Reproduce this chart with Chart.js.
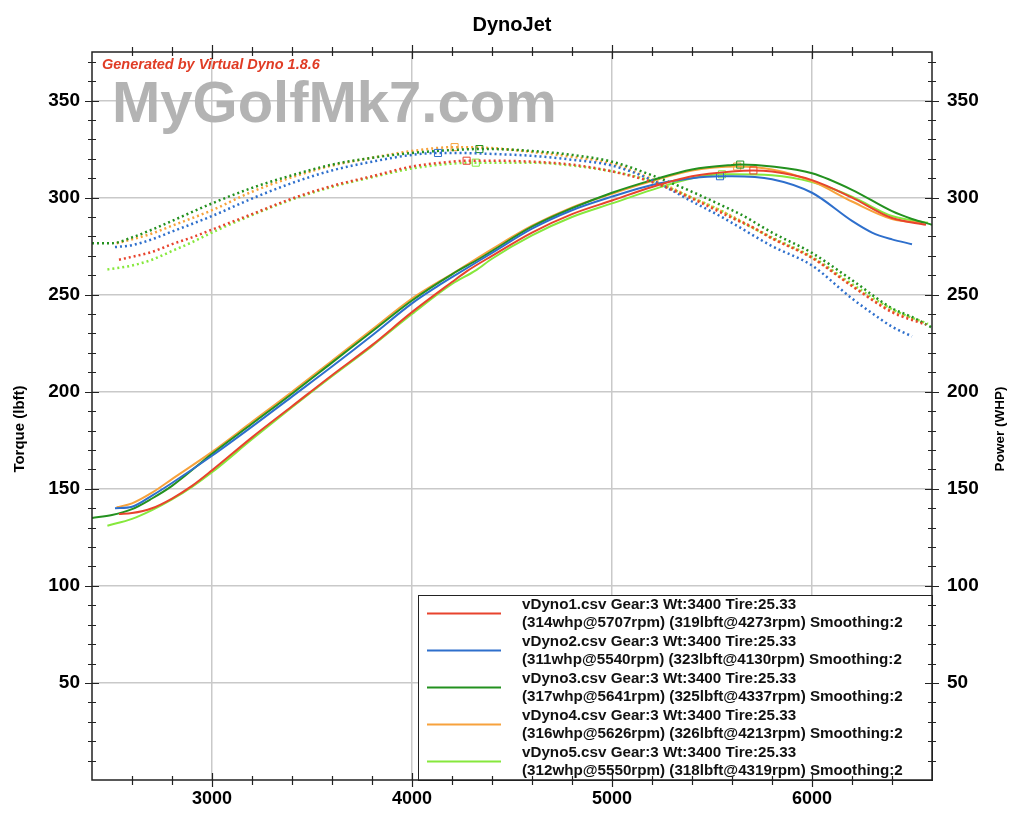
<!DOCTYPE html>
<html><head><meta charset="utf-8">
<script src="https://cdn.jsdelivr.net/npm/chart.js@4/dist/chart.umd.min.js"></script>
<style>html,body{margin:0;padding:0;background:#fff;}#wrap{width:1024px;height:817px;}</style>
</head><body><div id="wrap"><canvas id="c" width="1024" height="817"></canvas></div>
<script>
// ---- text ----
const chartTitle = 'DynoJet';
const watermarkText = 'MyGolfMk7.com';
const creditText = 'Generated by Virtual Dyno 1.8.6';
const yTitleLeft = 'Torque (lbft)';
const yTitleRight = 'Power (WHP)';
// ---- ticks ----
const xTicks = [3000, 4000, 5000, 6000];
const yTicks = [50, 100, 150, 200, 250, 300, 350];
// ---- legend info ----
const runNames = ['vDyno1.csv', 'vDyno2.csv', 'vDyno3.csv', 'vDyno4.csv', 'vDyno5.csv'];
const runInfo = 'Gear:3 Wt:3400 Tire:25.33';
const smoothing = 2;
const peakHp = [314, 311, 317, 316, 312];
const peakHpRpm = [5707, 5540, 5641, 5626, 5550];
const peakTq = [319, 323, 325, 326, 318];
const peakTqRpm = [4273, 4130, 4337, 4213, 4319];
// ---- series data (rpm, power WHP, torque lbft) ----
const rpm1 = [2535,2600,2700,2800,2900,3000,3200,3400,3600,3800,4000,4200,4273,4400,4600,4800,5000,5200,5400,5600,5707,5800,6000,6200,6400,6570];
const hp1  = [137,137.5,140,145,151.5,159.5,176.5,192.5,208.5,224,241,256.5,262,270,282,291.5,298.5,305.5,311,313.5,314,313.4,309,300,289.5,286];
const tq1  = [268,269.5,272,276,279.5,283.5,291.5,299.5,306,311,316,318.5,319,319,318.5,317,313.5,308,299.5,289.5,284.5,279,269,254.5,241,234.5];
const rpm2 = [2515,2600,2700,2800,3000,3200,3400,3600,3800,4000,4130,4200,4400,4600,4800,5000,5200,5400,5540,5600,5800,6000,6200,6300,6400,6500];
const hp2  = [140,140.8,146.5,153,167,182,197.5,213,229,245.5,254.5,259,271.5,284,293.5,300.5,306.5,310,311,311,309.5,302.5,288,282,278.5,276];
const tq2  = [274.5,275.5,278.5,282.5,290.5,299.5,307.5,314,318.5,322,323,323,322.5,321.5,319.5,316.5,309,298,290.5,287,275,265,248,240.5,233.5,228.5];
const rpm3 = [2400,2500,2600,2700,2800,3000,3200,3400,3600,3800,4000,4200,4337,4400,4600,4800,5000,5200,5400,5600,5641,5800,6000,6200,6400,6500,6600];
const hp3  = [135,136.5,139.5,145,151.5,168,183.5,199,215,231,247,260.5,268.5,272.5,285,294.5,302.5,309,314.5,316.8,317,316,312.5,304,293,289,286];
const tq3  = [276.5,276.5,279.5,283.5,288,297,305,311.5,317,320.5,323,324.5,325,325,324,322,318.5,311.5,303,293.5,291.5,282,271.5,257.5,243,238.5,233];
const rpm4 = [2523,2600,2700,2800,3000,3200,3400,3600,3800,4000,4213,4400,4600,4800,5000,5200,5400,5626,5800,6000,6200,6400,6560];
const hp4  = [140.5,142.5,148,155,169,184.5,200,216,232,248,261.5,273.5,285.5,295,302,308.5,314,316,314.5,308.5,298,289,287];
const tq4  = [276.5,278.5,281.5,285.5,293.5,303,310.5,316.5,320.5,324,326,325.5,323.5,321,317.5,309.5,300,289,279,269,254.5,241.5,235.5];
const rpm5 = [2477,2600,2700,2800,2900,3000,3200,3400,3600,3800,4000,4200,4319,4400,4600,4800,5000,5200,5400,5550,5600,5800,6000,6200,6400,6580];
const hp5  = [131,134.5,139,144.5,151,158.5,175.5,192,208,223.5,240,255.5,262.5,268.5,280.5,290,297,304,310,312,312,311.5,308,300.5,290.5,287];
const tq5  = [263,265,268,272.5,277,282,291,299,305.5,310.5,315,317.5,318,318,318,316.5,313.5,308.5,300,293,290,279.5,269.5,255.5,242.5,235];

// ---- styles ----
const colors = ['#e8432d', '#2e6fcc', '#23911f', '#f7a23c', '#86e83c'];
const FONT = "'Liberation Sans', Arial, sans-serif";

const series = [
  {rpm: rpm1, hp: hp1, tq: tq1},
  {rpm: rpm2, hp: hp2, tq: tq2},
  {rpm: rpm3, hp: hp3, tq: tq3},
  {rpm: rpm4, hp: hp4, tq: tq4},
  {rpm: rpm5, hp: hp5, tq: tq5}
];

const datasets = [];
series.forEach((s, i) => {
  datasets.push({
    label: runNames[i] + ' power',
    data: s.rpm.map((r, j) => ({x: r, y: s.hp[j]})),
    yAxisID: 'y2',
    borderColor: colors[i],
    borderWidth: 2,
    cubicInterpolationMode: 'monotone',
    pointStyle: 'rect',
    pointRadius: ctx => (ctx.raw && ctx.raw.x === peakHpRpm[i]) ? 5 : 0,
    pointBorderColor: colors[i],
    pointBackgroundColor: 'rgba(0,0,0,0)',
    pointBorderWidth: 1,
    fill: false
  });
  datasets.push({
    label: runNames[i] + ' torque',
    data: s.rpm.map((r, j) => ({x: r, y: s.tq[j]})),
    yAxisID: 'y',
    borderColor: colors[i],
    borderWidth: 2.5,
    borderDash: [2, 3],
    cubicInterpolationMode: 'monotone',
    pointStyle: 'rect',
    pointRadius: ctx => (ctx.raw && ctx.raw.x === peakTqRpm[i]) ? 5 : 0,
    pointBorderColor: colors[i],
    pointBackgroundColor: 'rgba(0,0,0,0)',
    pointBorderWidth: 1,
    fill: false
  });
});

const decor = {
  id: 'decor',
  beforeDatasetsDraw(chart) {
    const ctx = chart.ctx, a = chart.chartArea;
    ctx.save();
    ctx.font = 'bold 58px ' + FONT;
    ctx.fillStyle = '#b3b3b3';
    ctx.textBaseline = 'alphabetic';
    ctx.textAlign = 'left';
    ctx.fillText(watermarkText, a.left + 20, a.top + 70);
    ctx.font = 'italic bold 14.5px ' + FONT;
    ctx.fillStyle = '#e03c25';
    ctx.fillText(creditText, a.left + 10, a.top + 17);
    ctx.restore();
  },
  afterDraw(chart) {
    const ctx = chart.ctx, a = chart.chartArea;
    const xs = chart.scales.x, ys = chart.scales.y;
    ctx.save();
    // legend box
    const lx = 418, ly = 595;
    ctx.fillStyle = '#fff';
    ctx.fillRect(lx, ly, a.right - lx, a.bottom - ly);
    ctx.strokeStyle = '#222';
    ctx.lineWidth = 1;
    ctx.strokeRect(lx + 0.5, ly + 0.5, a.right - lx, a.bottom - ly);
    const step = (a.bottom - ly) / 5;
    ctx.font = 'bold 15.2px ' + FONT;
    ctx.fillStyle = '#111';
    ctx.textAlign = 'left';
    ctx.textBaseline = 'middle';
    for (let i = 0; i < 5; i++) {
      const cy = ly + step * (i + 0.5);
      ctx.strokeStyle = colors[i];
      ctx.lineWidth = 2;
      ctx.beginPath(); ctx.moveTo(lx + 9, cy); ctx.lineTo(lx + 83, cy); ctx.stroke();
      ctx.fillText(runNames[i] + ' ' + runInfo, lx + 104, cy - 9);
      ctx.fillText('(' + peakHp[i] + 'whp@' + peakHpRpm[i] + 'rpm) (' + peakTq[i] + 'lbft@' + peakTqRpm[i] + 'rpm) Smoothing:' + smoothing, lx + 104, cy + 9.5);
    }
    // frame
    ctx.strokeStyle = '#222';
    ctx.lineWidth = 1.5;
    ctx.strokeRect(a.left, a.top, a.right - a.left, a.bottom - a.top);
    // tick marks
    ctx.lineWidth = 1.2;
    ctx.beginPath();
    for (let v = 10; v <= 370; v += 10) {
      const y = Math.round(ys.getPixelForValue(v)) + 0.5;
      const major = v % 50 === 0;
      const o = major ? 7 : 4, inn = major ? 7 : 4;
      ctx.moveTo(a.left - o, y); ctx.lineTo(a.left + inn, y);
      ctx.moveTo(a.right - inn, y); ctx.lineTo(a.right + o, y);
    }
    for (let r = 2600; r <= 6400; r += 200) {
      const x = Math.round(xs.getPixelForValue(r)) + 0.5;
      const major = r % 1000 === 0;
      const o = major ? 7 : 5, inn = major ? 7 : 4;
      ctx.moveTo(x, a.bottom - inn); ctx.lineTo(x, a.bottom + o);
      ctx.moveTo(x, a.top - o); ctx.lineTo(x, a.top + inn);
    }
    ctx.stroke();
    // titles
    ctx.fillStyle = '#000';
    ctx.textAlign = 'center';
    ctx.textBaseline = 'middle';
    ctx.font = 'bold 20px ' + FONT;
    ctx.fillText(chartTitle, (a.left + a.right) / 2, 25);
    ctx.font = 'bold 15px ' + FONT;
    ctx.translate(20, 429); ctx.rotate(-Math.PI / 2);
    ctx.fillText(yTitleLeft, 0, 0);
    ctx.setTransform(1, 0, 0, 1, 0, 0);
    ctx.font = 'bold 13.5px ' + FONT;
    ctx.translate(1000, 429); ctx.rotate(-Math.PI / 2);
    ctx.fillText(yTitleRight, 0, 0);
    ctx.restore();
  }
};

const xFont = {family: FONT, size: 18, weight: 'bold'};
const yFont = {family: FONT, size: 19, weight: 'bold'};
const plain = v => String(v);
new Chart(document.getElementById('c'), {
  type: 'line',
  data: {datasets},
  options: {
    responsive: false,
    animation: false,
    devicePixelRatio: 1,
    layout: {padding: {top: 52, left: 0, right: 0, bottom: 0}},
    plugins: {legend: {display: false}, tooltip: {enabled: false}, title: {display: false}},
    scales: {
      x: {
        type: 'linear', min: 2400, max: 6600,
        afterBuildTicks: s => { s.ticks = xTicks.map(v => ({value: v})); },
        afterFit: s => { s.height = 37; },
        ticks: {font: xFont, color: '#000', padding: 8, callback: plain},
        grid: {color: '#c9c9c9', lineWidth: 1.5, drawTicks: false},
        border: {display: false}
      },
      y: {
        position: 'left', min: 0, max: 375,
        afterBuildTicks: s => { s.ticks = yTicks.map(v => ({value: v})); },
        afterFit: s => { s.width = 92; },
        ticks: {font: yFont, color: '#000', padding: 12, callback: plain},
        grid: {color: '#c9c9c9', lineWidth: 1.5, drawTicks: false},
        border: {display: false}
      },
      y2: {
        position: 'right', min: 0, max: 375,
        afterBuildTicks: s => { s.ticks = yTicks.map(v => ({value: v})); },
        afterFit: s => { s.width = 92; },
        ticks: {font: yFont, color: '#000', padding: 15, callback: plain},
        grid: {display: false, drawTicks: false},
        border: {display: false}
      }
    }
  },
  plugins: [decor]
});
</script>
</body></html>
